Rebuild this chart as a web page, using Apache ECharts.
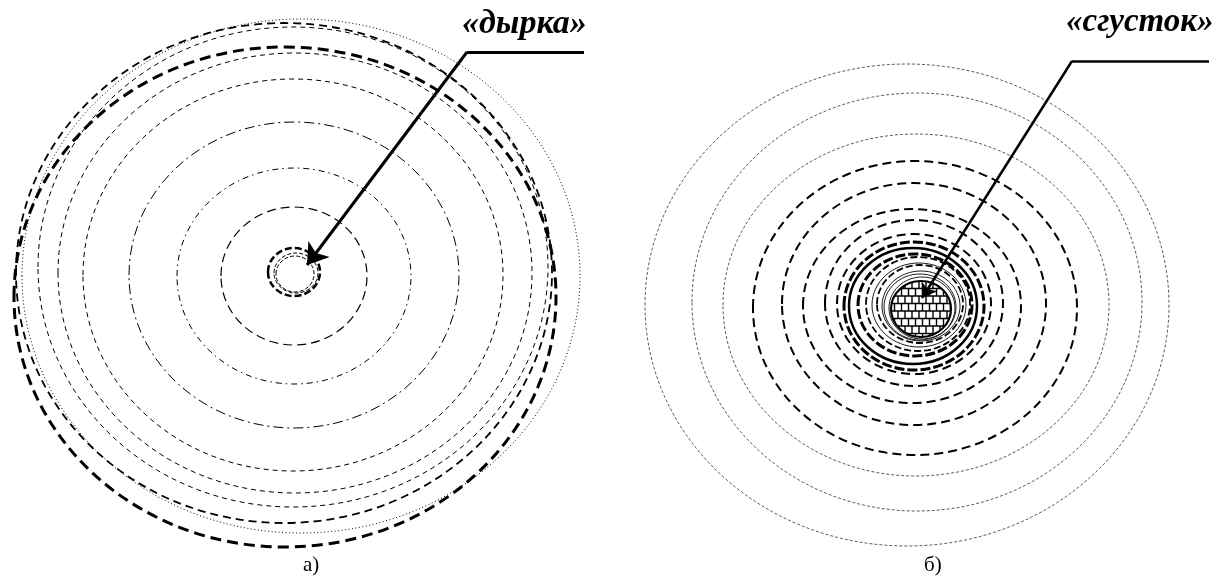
<!DOCTYPE html>
<html>
<head>
<meta charset="utf-8">
<script src="https://cdn.jsdelivr.net/npm/echarts@6/dist/echarts.min.js"></script>
<style>html,body{margin:0;padding:0;background:#fff}#c{width:1214px;height:578px}</style>
</head>
<body>
<div id="c"></div>
<script>
// ---- DATA: contour rings as [centerX, centerY, radiusX, radiusY] in picture units ----
// Panel а) "дырка"
const leftOuterThick   = [[285, 297, 271, 250]];
const leftOuterMedium  = [[284, 273, 268, 250]];
const leftDotted       = [[301, 276, 279, 257]];
const leftThinDashed   = [[293, 267, 255, 240], [295, 273, 237, 220], [293, 275, 210, 196]];
const leftLongDashDot  = [[294, 275, 165, 153]];
const leftDashDot      = [[294, 276, 117, 108]];
const leftLongDash     = [[294, 276, 73, 69]];
const leftHoleBold     = [[294, 272, 26, 24]];
const leftHoleThin     = [[296, 273, 22, 20], [295, 274, 19, 18]];
// Panel б) "сгусток"
const rightThinGray    = [[907, 305, 262, 241], [917, 302, 225, 209], [916, 305, 193, 171]];
const rightDashed      = [[915, 308, 162, 147], [914, 304, 132, 121], [912, 306, 109, 97], [914, 303, 89, 83], [914, 304, 77, 70]];
const rightDenseHeavy  = [[914, 306, 70, 64], [915, 305, 57, 51]];
const rightDenseSolid  = [[913, 306, 64, 58]];
const rightDenseDashed = [[918, 304, 52, 47], [920, 304, 43, 39]];
const rightInnerSolid  = [[919, 305, 47, 42], [921, 306, 39, 35], [920, 307, 36, 33], [922, 308, 33, 31]];
const clot             = [[921, 309, 30, 28]];
// Callouts
const callouts     = ['«дырка»', '«сгусток»'];
const captions     = ['а)', 'б)'];
const leaderShelfA = [[584, 52], [467, 52]];
const leaderArrowA = [[467, 52], [307, 265]];
const leaderShelfB = [[1209, 61], [1072, 61]];
const leaderArrowB = [[1072, 61], [922, 298]];

// ---- rendering ----
function ringSeries(data, color, width, dash) {
  return {
    type: 'custom', coordinateSystem: 'cartesian2d', data: data, silent: true, clip: false,
    encode: { x: 0, y: 1 }, z: 2,
    renderItem: function (params, api) {
      const c = api.coord([api.value(0), api.value(1)]);
      const s = api.size([api.value(2), api.value(3)]);
      return {
        type: 'ellipse',
        shape: { cx: c[0], cy: c[1], rx: Math.abs(s[0]), ry: Math.abs(s[1]) },
        style: { fill: 'none', stroke: color, lineWidth: width, lineDash: dash }
      };
    }
  };
}
function hatchSeries(data) {
  return {
    type: 'custom', coordinateSystem: 'cartesian2d', data: data, silent: true, clip: false,
    encode: { x: 0, y: 1 }, z: 3,
    renderItem: function (params, api) {
      const c = api.coord([api.value(0), api.value(1)]);
      const s = api.size([api.value(2), api.value(3)]);
      const cx = c[0], cy = c[1], rx = Math.abs(s[0]), ry = Math.abs(s[1]);
      const kids = [{ type: 'ellipse', shape: { cx, cy, rx, ry }, style: { fill: '#fff', stroke: '#000', lineWidth: 2.2 } }];
      const ch = 7.5, cw = 7, lw = 1.4;
      for (let y = cy - ry + ch; y < cy + ry; y += ch) {
        const d = (y - cy) / ry, hw = rx * Math.sqrt(1 - d * d);
        kids.push({ type: 'line', shape: { x1: cx - hw, y1: y, x2: cx + hw, y2: y }, style: { stroke: '#000', lineWidth: lw } });
      }
      let r = 0;
      for (let y0 = cy - ry; y0 < cy + ry; y0 += ch, r++) {
        const y1 = y0 + ch, off = (r % 2) ? cw / 2 : 0;
        for (let x = cx - rx + off; x < cx + rx; x += cw) {
          const d = (x - cx) / rx;
          if (Math.abs(d) >= 1) continue;
          const hh = ry * Math.sqrt(1 - d * d);
          const a = Math.max(y0, cy - hh), b = Math.min(y1, cy + hh);
          if (b > a) kids.push({ type: 'line', shape: { x1: x, y1: a, x2: x, y2: b }, style: { stroke: '#000', lineWidth: lw } });
        }
      }
      return { type: 'group', children: kids };
    }
  };
}
function leader(coords, width, arrow) {
  return {
    type: 'lines', coordinateSystem: 'cartesian2d', silent: true, z: 10,
    data: [{ coords: coords }],
    symbol: ['none', arrow ? 'arrow' : 'none'], symbolSize: arrow || 1,
    lineStyle: { color: '#000', width: width, opacity: 1, type: 'solid' }
  };
}
const serifBI = { fontFamily: 'Liberation Serif', fontWeight: 'bold', fontStyle: 'italic', color: '#000', fontSize: 34 };
const serif = { fontFamily: 'Liberation Serif', fontWeight: 'normal', color: '#000', fontSize: 21 };

const chart = echarts.init(document.getElementById('c'), null, { renderer: 'canvas' });
chart.setOption({
  backgroundColor: '#fff',
  animation: false,
  grid: { left: 0, right: 0, top: 0, bottom: 0 },
  xAxis: { type: 'value', min: 0, max: 1214, show: false },
  yAxis: { type: 'value', min: 0, max: 578, inverse: true, show: false },
  title: [
    { text: callouts[0], left: 462, top: 7, padding: 0, textStyle: serifBI },
    { text: callouts[1], left: 1066, top: 6, padding: 0, textStyle: Object.assign({}, serifBI, { fontSize: 33 }) },
    { text: captions[0], left: 303, top: 555, padding: 0, textStyle: serif },
    { text: captions[1], left: 924, top: 555, padding: 0, textStyle: serif }
  ],
  series: [
    ringSeries(leftOuterThick, '#000', 3, [11, 6]),
    ringSeries(leftOuterMedium, '#000', 1.8, [8, 5]),
    ringSeries(leftDotted, '#000', 1, [1, 2.5]),
    ringSeries(leftThinDashed, '#000', 1, [5, 4]),
    ringSeries(leftLongDashDot, '#000', 1, [10, 4, 2, 4]),
    ringSeries(leftDashDot, '#000', 1, [6, 4, 1.5, 4]),
    ringSeries(leftLongDash, '#000', 1.2, [9, 5]),
    ringSeries(leftHoleBold, '#000', 2.5, [7, 3]),
    ringSeries(leftHoleThin, '#000', 1, [4, 2]),
    ringSeries(rightThinGray, '#4a4a4a', 0.9, [3, 2]),
    ringSeries(rightDashed, '#000', 2, [9, 5]),
    ringSeries(rightDenseHeavy, '#000', 3, [10, 3]),
    ringSeries(rightDenseSolid, '#000', 2.5, null),
    ringSeries(rightDenseDashed, '#000', 1.8, [7, 3]),
    ringSeries(rightInnerSolid, '#000', 0.9, null),
    hatchSeries(clot),
    leader(leaderShelfA, 3, 0),
    leader(leaderArrowA, 3, 20),
    leader(leaderShelfB, 2.5, 0),
    leader(leaderArrowB, 2.5, 14)
  ]
});
</script>
</body>
</html>
